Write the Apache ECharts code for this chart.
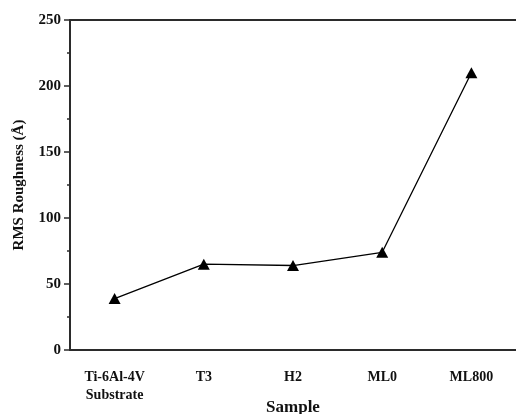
<!DOCTYPE html>
<html>
<head>
<meta charset="utf-8">
<script src="https://cdn.jsdelivr.net/npm/echarts@6/dist/echarts.min.js"></script>
<style>
  html, body { margin: 0; padding: 0; background: #fff; }
  #chart { width: 516px; height: 414px; }
</style>
</head>
<body>
<div id="chart"></div>
<script>
// Sample names shown under the x axis
const samples = ['Ti-6Al-4V\nSubstrate', 'T3', 'H2', 'ML0', 'ML800'];
// RMS roughness of each sample, in ångström
const rmsRoughness = [39, 65, 64, 74, 210];
// Y-axis range
const yMin = 0, yMax = 250, yStep = 50;

const font = '"Liberation Serif", "Times New Roman", serif';
const axisColor = '#2b2b2b';

const chart = echarts.init(document.getElementById('chart'));
chart.setOption({
  animation: false,
  backgroundColor: '#fff',
  grid: { left: 70, right: 0, top: 20, bottom: 64, containLabel: false, outerBoundsMode: 'none' },
  xAxis: [
    {
      type: 'category',
      data: samples,
      boundaryGap: true,
      name: 'Sample',
      nameLocation: 'middle',
      nameGap: 49,
      nameMoveOverlap: false,
      nameTextStyle: { fontFamily: font, fontWeight: 'bold', fontSize: 17, color: '#111' },
      axisLine: { lineStyle: { color: axisColor, width: 2 } },
      axisTick: { alignWithLabel: true, length: 6, lineStyle: { color: axisColor, width: 1.5 } },
      axisLabel: { margin: 18, fontFamily: font, fontWeight: 'bold', fontSize: 14, color: '#111', lineHeight: 18 },
      splitLine: { show: false }
    },
    {
      // boundary ticks between categories
      type: 'category',
      data: samples,
      position: 'bottom',
      boundaryGap: true,
      axisLine: { show: false },
      axisTick: { length: 3, lineStyle: { color: axisColor, width: 1.5 } },
      axisLabel: { show: false },
      splitLine: { show: false }
    },
    {
      // top frame line
      type: 'category',
      data: samples,
      position: 'top',
      axisLine: { lineStyle: { color: axisColor, width: 2 } },
      axisTick: { show: false },
      axisLabel: { show: false },
      splitLine: { show: false }
    }
  ],
  yAxis: {
    type: 'value',
    min: yMin,
    max: yMax,
    interval: yStep,
    name: 'RMS Roughness (Å)',
    nameLocation: 'middle',
    nameGap: 43,
    nameMoveOverlap: false,
    nameTextStyle: { fontFamily: font, fontWeight: 'bold', fontSize: 15, color: '#111' },
    axisLine: { show: true, lineStyle: { color: axisColor, width: 2 } },
    axisTick: { show: true, length: 6, lineStyle: { color: axisColor, width: 1.5 } },
    minorTick: { show: true, splitNumber: 2, length: 3, lineStyle: { color: axisColor, width: 1.5 } },
    axisLabel: { margin: 9, fontFamily: font, fontWeight: 'bold', fontSize: 15, color: '#111' },
    splitLine: { show: false }
  },
  series: [{
    type: 'line',
    data: rmsRoughness,
    symbol: 'triangle',
    symbolSize: [12, 11],
    lineStyle: { color: '#000', width: 1.3 },
    itemStyle: { color: '#000' }
  }]
});
</script>
</body>
</html>
